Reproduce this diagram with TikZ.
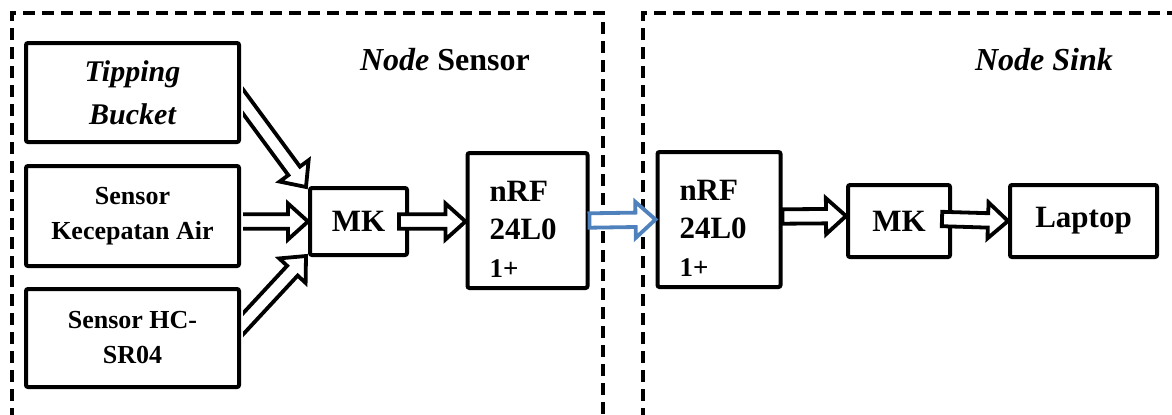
\documentclass[tikz,border=0pt]{standalone}
\usepackage{fontspec}
\setmainfont{Liberation Serif}
\usepackage{xcolor}
\usepackage{tikz}
\usetikzlibrary{calc}

\definecolor{linkblue}{RGB}{79,129,189}

% block arrow with white body: [colour]{from}{to}
\newcommand{\fatarrow}[3][black]{%
  \path #2 coordinate (fa-s) #3 coordinate (fa-e);
  \path ($(fa-e)!10pt!(fa-s)$) coordinate (fa-h);
  \draw[fat, draw=#1]
    ($(fa-s)!3.6pt!90:(fa-e)$) -- ($(fa-h)!3.6pt!90:(fa-e)$) --
    ($(fa-h)!9pt!90:(fa-e)$) -- (fa-e) --
    ($(fa-h)!9pt!-90:(fa-e)$) -- ($(fa-h)!3.6pt!-90:(fa-e)$) --
    ($(fa-s)!3.6pt!-90:(fa-e)$) -- cycle;
}

\begin{document}
\begin{tikzpicture}[x=0.5pt, y=-0.5pt,
    blk/.style={draw, line width=2pt, rounded corners=1pt, align=center, inner sep=0pt,
                font=\bfseries\fontsize{13}{17.5}\selectfont},
    big/.style={font=\bfseries\fontsize{15.5}{19}\selectfont},
    rf/.style={blk, big, align=left, text width=38pt, inner xsep=11pt, minimum height=67.5pt},
    zone/.style={line width=1.8pt, dash pattern=on 6pt off 3.5pt},
    fat/.style={line width=1.9pt, fill=white, line join=miter}]

    \useasboundingbox (0,0) rectangle (1172,414);
    \clip (0,0) rectangle (1172,414);

    % Dashed zones
    \draw[zone] (12,420) -- (12,13) -- (603,13) -- (603,420);
    \draw[zone] (643,420) -- (643,13) -- (1180,13);

    % Zone titles
    \node[big, font=\bfseries\fontsize{16}{19}\selectfont] (tsensor) at (445,60) {\textit{Node} Sensor};
    \node[big, font=\bfseries\itshape\fontsize{16}{19}\selectfont] (tsink) at (1044,60) {Node Sink};

    % Sensors
    \node[blk, minimum width=106.5pt, minimum height=49.5pt,
          font=\bfseries\itshape\fontsize{15}{21.5}\selectfont] (tb) at (132.5,92.5) {Tipping\\Bucket};
    \node[blk, minimum width=106.5pt, minimum height=50pt] (kec) at (132.5,216) {Sensor\\Kecepatan Air};
    \node[blk, minimum width=106.5pt, minimum height=49pt] (hc) at (132.5,338) {Sensor HC-\\SR04};

    % Sensor side
    \node[blk, big, minimum width=48.5pt, minimum height=33.5pt] (mk1) at (358.5,221.5) {MK};
    \node[rf] (rf1) at (527.5,220.5) {\rule{0pt}{19pt}nRF\\24L0\\{\fontsize{13.5}{19}\selectfont 1+}};

    % Sink side
    \node[rf, text width=39.5pt] (rf2) at (719,219.5) {\rule{0pt}{19pt}nRF\\24L0\\{\fontsize{13.5}{19}\selectfont 1+}};
    \node[blk, big, minimum width=51pt, minimum height=36pt] (mk2) at (899,221) {MK};
    \node[blk, big, minimum width=73.5pt, minimum height=36pt] (lap) at (1083.5,221) {Laptop};

    % Inputs to MK (cut at the sensor boxes)
    \begin{scope}
        \clip ($(tb.east)+(2,-60)$) rectangle (1172,414);
        \fatarrow{($(tb.east)+(-12,-10)$)}{($(mk1.north west)+(-2,1)$)}
        \fatarrow{(kec.east |- mk1.west)}{(mk1.west)}
        \fatarrow{($(hc.east)+(-12,1)$)}{($(mk1.south west)+(-2,-1)$)}
    \end{scope}

    % MK to radio, radio link
    \fatarrow{($(mk1.east)+(-10,0)$)}{(rf1.west |- mk1.east)}
    \fatarrow[linkblue]{(rf1.east)}{(rf2.west)}

    % Sink chain
    \fatarrow{($(rf2.east)+(0,-3)$)}{($(mk2.west)+(0,-5)$)}
    \fatarrow{($(mk2.east)+(-10,-2)$)}{(lap.west)}

\end{tikzpicture}
\end{document}
